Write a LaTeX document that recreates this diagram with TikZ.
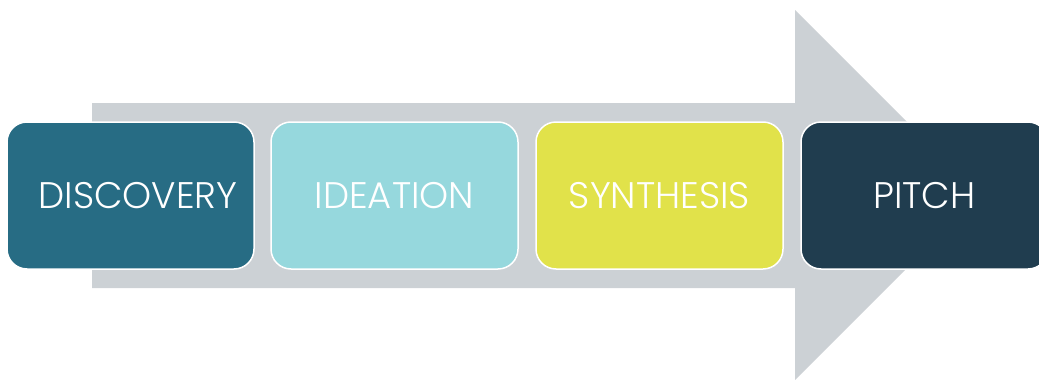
\documentclass[tikz,border=0pt]{standalone}
\usepackage{fontspec}
\setmainfont{Poppins Light}
\definecolor{arrowgray}{HTML}{CCD1D5}
\definecolor{cdisc}{HTML}{276C84}
\definecolor{cidea}{HTML}{96D8DD}
\definecolor{csynth}{HTML}{E1E24A}
\definecolor{cpitch}{HTML}{203D4F}
\tikzset{
  phase/.style={draw=white, line width=1.5pt, rounded corners=20pt, minimum width=247pt, minimum height=147pt, inner sep=0pt, text=white, font=\fontsize{37}{37}\selectfont},
}
\begin{document}
\begin{tikzpicture}[x=1pt,y=-1pt]
\useasboundingbox (0,0) rectangle (1039,380);
\clip (0,0) rectangle (1039,380);
\fill[arrowgray] (92,103) -- (795,103) -- (795,10) -- (980,195) -- (795,380) -- (795,288) -- (92,288) -- cycle;
\node[phase, fill=cdisc] (disc) at (130.5,195.5) {};
\node[text=white, font=\fontsize{37}{37}\selectfont] (disct) at (138,195.5) {DISCOVERY};
\node[phase, fill=cidea] (idea) at (394.5,195.5) {IDEATION};
\node[phase, fill=csynth] (synth) at (659.5,195.5) {SYNTHESIS};
\node[phase, fill=cpitch] (pitch) at (924.5,195.5) {PITCH};
\end{tikzpicture}
\end{document}
